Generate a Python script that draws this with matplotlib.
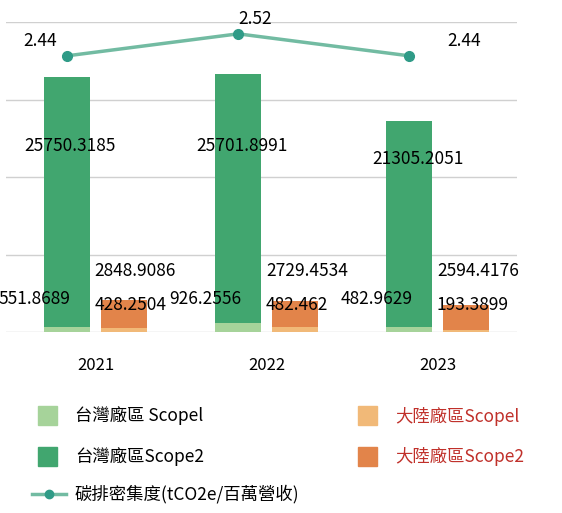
import matplotlib
matplotlib.use("Agg")
from matplotlib import pyplot as plt
from matplotlib.patches import Rectangle
from matplotlib.lines import Line2D
import numpy as np

plt.rcParams['font.family'] = ['Noto Sans CJK TC', 'DejaVu Sans']

years = ['2021', '2022', '2023']
tw_scope1 = [551.8689, 926.2556, 482.9629]
tw_scope2 = [25750.3185, 25701.8991, 21305.2051]
cn_scope1 = [428.2504, 482.462, 193.3899]
cn_scope2 = [2848.9086, 2729.4534, 2594.4176]
intensity = [2.44, 2.52, 2.44]

c_tw1, c_tw2 = '#a6d39a', '#41a66f'
c_cn1, c_cn2 = '#f1b978', '#e2844a'
c_line, c_mark = '#72bba2', '#2f9b87'

fig = plt.figure(figsize=(5.62, 5.13), dpi=100)
ax = fig.add_axes([6 / 562, 181 / 513, 511 / 562, 310 / 513])
x = np.arange(len(years))
w = 0.27
off = 0.166
ax.bar(x - off, tw_scope1, w, color=c_tw1)
ax.bar(x - off, tw_scope2, w, bottom=tw_scope1, color=c_tw2)
ax.bar(x + off, cn_scope1, w, color=c_cn1)
ax.bar(x + off, cn_scope2, w, bottom=cn_scope1, color=c_cn2)
ax.set_ylim(0, 32000)
ax.set_xlim(-0.523, 2.464)
ax.set_yticks([0, 8000, 16000, 24000, 32000])
ax.grid(axis='y', color='#d0d0d0', linewidth=1)
ax.set_axisbelow(True)
for s in ax.spines.values():
    s.set_visible(False)
ax.tick_params(length=0, labelleft=False)
ax.set_xticks(x, years, fontsize=12)
ax.tick_params(axis='x', pad=18)

fs = 12.5
for i in range(3):
    ax.text(x[i] - off + 0.02 + 0.03 * (i == 2), 19200 if i < 2 else 17860, str(tw_scope2[i]),
            ha='center', va='center', fontsize=fs)
    ax.text(x[i] - off - 0.19, 3430, str(tw_scope1[i]), ha='center', va='center', fontsize=fs)
    ax.text(x[i] + off - 0.17, 6335, str(cn_scope2[i]), ha='left', va='center', fontsize=fs)
    ax.text(x[i] + off - 0.17, 2800, str(cn_scope1[i]), ha='left', va='center', fontsize=fs)

ax2 = ax.twinx()
ax2.set_ylim(1.436, 2.563)
ax2.plot(x - off, intensity, color=c_line, linewidth=2.5, marker='o', markersize=7,
         markerfacecolor=c_mark, markeredgecolor=c_mark)
ax2.axis('off')
ax2.text(x[0] - off - 0.16, 2.495, f'{intensity[0]:.2f}', ha='center', va='center', fontsize=fs)
ax2.text(x[1] - off + 0.1, 2.575, f'{intensity[1]:.2f}', ha='center', va='center', fontsize=fs)
ax2.text(x[2] - off + 0.32, 2.495, f'{intensity[2]:.2f}', ha='center', va='center', fontsize=fs)

H = 513
def sq(px, py, col):
    fig.patches.append(Rectangle((px / 562, (H - py - 9) / H), 19 / 562, 19 / H,
                                 color=col, transform=fig.transFigure))

lfs = 12.5
sq(38, 416, c_tw1)
fig.text(75 / 562, (H - 416) / H, '台灣廠區 Scopel', va='center', fontsize=lfs)
sq(38, 457, c_tw2)
fig.text(75 / 562, (H - 457) / H, '台灣廠區Scope2', va='center', fontsize=lfs)
sq(358, 416, c_cn1)
fig.text(395 / 562, (H - 416) / H, '大陸廠區Scopel', va='center', fontsize=lfs, color='#c0302a')
sq(358, 457, c_cn2)
fig.text(395 / 562, (H - 457) / H, '大陸廠區Scope2', va='center', fontsize=lfs, color='#c0302a')
fig.lines.append(Line2D([32 / 562, 66 / 562], [(H - 494) / H] * 2, color=c_line, linewidth=2.5,
                        transform=fig.transFigure))
fig.lines.append(Line2D([49 / 562], [(H - 494) / H], marker='o', markersize=6, color=c_mark,
                        transform=fig.transFigure))
fig.text(75 / 562, (H - 494) / H, '碳排密集度(tCO2e/百萬營收)', va='center', fontsize=lfs)

fig.savefig('out.png', dpi=100)
